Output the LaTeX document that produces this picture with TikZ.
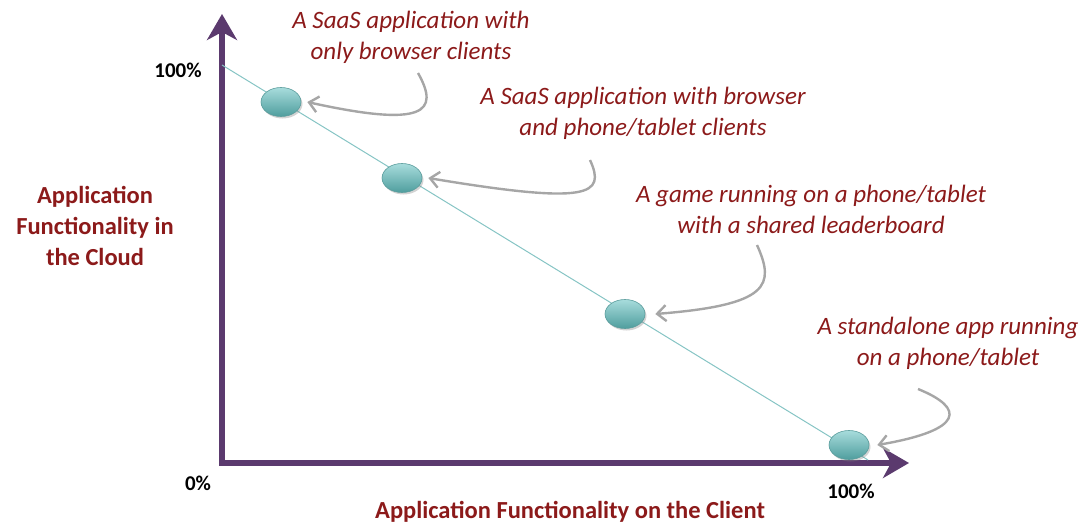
\documentclass[tikz,border=0pt]{standalone}
\usepackage{fontspec}
\setmainfont{Carlito}
\usetikzlibrary{arrows.meta,shadows,shapes.geometric}
\definecolor{axispurple}{HTML}{5B3A6E}
\definecolor{labelred}{HTML}{8C1A1A}
\definecolor{linteal}{HTML}{86C4C4}
\definecolor{arrgrey}{HTML}{A6A6A6}
\definecolor{dottop}{HTML}{A8DCDC}
\definecolor{dotbot}{HTML}{4F9E9E}
\definecolor{dotedge}{HTML}{5A9C9C}
\tikzset{
  axis/.style={line width=6pt, color=axispurple, {Stealth[length=26pt,width=30pt,inset=8pt]}-{Stealth[length=26pt,width=30pt,inset=8pt]}},
  dot/.style={ellipse, minimum width=40pt, minimum height=29pt, inner sep=0pt, top color=dottop, bottom color=dotbot, draw=dotedge, line width=0.6pt, drop shadow={opacity=0.35, shadow xshift=1.5pt, shadow yshift=-2pt}},
  note/.style={font=\fontsize{25}{31}\selectfont\itshape, text=labelred, align=center, inner sep=0pt},
  pct/.style={font=\fontsize{21}{24}\selectfont\bfseries, text=black, inner sep=0pt},
  axlabel/.style={font=\fontsize{24.5}{31}\selectfont\bfseries, text=labelred, align=center, inner sep=0pt},
  callout/.style={draw=arrgrey, line width=2.4pt, -{Straight Barb[length=9pt,width=16pt]}}
}
\begin{document}
\begin{tikzpicture}[x=1pt,y=-1pt]
\useasboundingbox (0,0) rectangle (1086,527);
% axes
\coordinate (ytop) at (222,14);
\coordinate (orig) at (222,463);
\coordinate (xend) at (909,463);
\draw[axis] (ytop) -- (orig) -- (xend);
% diagonal
\coordinate (d0) at (222,65);
\coordinate (d1) at (868,460);
\draw[linteal, line width=1pt] (d0) -- (d1);
% dots
\node[dot] (p1) at (281,102) {};
\node[dot] (p2) at (402,178) {};
\node[dot] (p3) at (625,314) {};
\node[dot] (p4) at (849,445) {};
% axis numbers
\node[pct] (n100y) at (178,70) {100\%};
\node[pct] (n0) at (198,483) {0\%};
\node[pct] (n100x) at (851,491) {100\%};
% axis labels
\node[axlabel] (ylab) at (95,226) {Application\\Functionality in\\the Cloud};
\node[axlabel] (xlab) at (570,512) {Application Functionality on the Client};
% notes
\node[note] (t1) at (411,37) {A SaaS application with\\only browser clients};
\node[note] (t2) at (643,113) {A SaaS application with browser\\and phone/tablet clients};
\node[note] (t3) at (811,209) {A game running on a phone/tablet\\with a shared leaderboard};
\node[note] (t4) at (948,343) {A standalone app running\\on a phone/tablet};
% callouts
\coordinate (s1) at (418,73);
\coordinate (s2) at (590,160);
\coordinate (s3) at (757,245);
\coordinate (s4) at (918,389);
\draw[callout] (s1) .. controls (440,112) and (425,128) .. ([xshift=6pt]p1.east);
\draw[callout] (s2) .. controls (606,195) and (590,205) .. ([xshift=6pt]p2.east);
\draw[callout] (s3) .. controls (775,285) and (770,305) .. ([xshift=10pt]p3.east);
\draw[callout] (s4) .. controls (965,408) and (965,430) .. ([xshift=8pt]p4.east);
\end{tikzpicture}
\end{document}
